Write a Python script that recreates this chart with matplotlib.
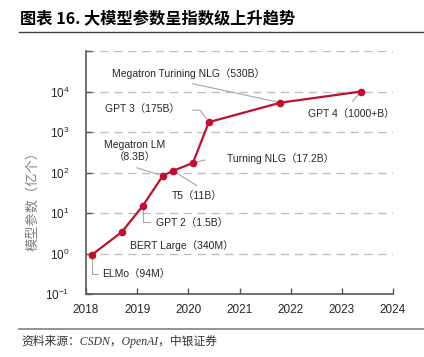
import matplotlib
matplotlib.use("Agg")
import matplotlib.pyplot as plt
from matplotlib.lines import Line2D
from matplotlib.ticker import FixedLocator, NullLocator, FuncFormatter

plt.rcParams['font.family'] = ['Liberation Sans', 'Noto Sans CJK SC']
plt.rcParams['mathtext.fontset'] = 'custom'
plt.rcParams['mathtext.rm'] = 'Liberation Sans'
plt.rcParams['mathtext.it'] = 'Liberation Sans'
plt.rcParams['axes.unicode_minus'] = False

# ---- data ----
models = ["ELMo", "BERT Large", "GPT 2", "Megatron LM", "T5",
          "Turning NLG", "GPT 3", "Megatron Turining NLG", "GPT 4"]
years = [2018.12, 2018.70, 2019.11, 2019.50, 2019.70, 2020.09, 2020.40, 2021.80, 2023.38]
params_yi = [0.94, 3.4, 15, 83, 110, 172, 1750, 5300, 10000]   # 亿个
labels = ["ELMo（94M）", "BERT Large（340M）", "GPT 2（1.5B）", "Megatron LM\n（8.3B）",
          "T5（11B）", "Turning NLG（17.2B）", "GPT 3（175B）",
          "Megatron Turining NLG（530B）", "GPT 4（1000+B）"]
x_ticks = [2018, 2019, 2020, 2021, 2022, 2023, 2024]
y_ticks = [1e-1, 1e0, 1e1, 1e2, 1e3, 1e4, 1e5]
y_tick_labels = ["$10^{-1}$", "$10^{0}$", "$10^{1}$", "$10^{2}$", "$10^{3}$", "$10^{4}$", ""]
title = "图表 16. 大模型参数呈指数级上升趋势"
ylabel = "模型参数（亿个）"
source = "资料来源：CSDN，OpenAI，中银证券"

# ---- layout ----
W, H = 424, 357
fig = plt.figure(figsize=(W / 100, H / 100), dpi=100)
ax = fig.add_axes([86 / W, 1 - 294 / H, (393 - 86) / W, (294 - 51) / H])

red = "#C00F2F"
ax.plot(years, params_yi, color=red, lw=1.6, marker="o", ms=4.5, zorder=5)

ax.set_yscale("log")
ax.set_ylim(1e-1, 1e5)
ax.set_xlim(2018, 2024)
ax.xaxis.set_major_locator(FixedLocator(x_ticks))
ax.set_xticklabels([str(t) for t in x_ticks])
ax.yaxis.set_major_locator(FixedLocator(y_ticks))
ax.yaxis.set_minor_locator(NullLocator())
ax.set_yticklabels(y_tick_labels)

for v in y_ticks[1:]:
    ax.axhline(v, color="#BFBFBF", lw=1.0, dashes=(6, 4), zorder=1)

for s in ["top", "right"]:
    ax.spines[s].set_visible(False)
for s in ["left", "bottom"]:
    ax.spines[s].set_color("#595959")
    ax.spines[s].set_linewidth(1.2)
ax.tick_params(axis="both", direction="in", length=4, width=1, color="#595959",
               labelsize=8.5, labelcolor="#262626")
ax.tick_params(axis="y", pad=12)
ax.tick_params(axis="x", pad=7)

# annotations: (text offset px, ha, va, leader end offset px or None, connectionstyle)
gray = "#A6A6A6"
ann = {
    "ELMo":        ((10, -19), "left", "center", (6, -19), "angle,angleA=0,angleB=90,rad=0"),
    "BERT Large":  ((8, -14), "left", "center", None, None),
    "GPT 2":       ((13, -17), "left", "center", (7, -16), "angle,angleA=0,angleB=90,rad=0"),
    "Megatron LM": ((-28, 25), "center", "center", (-26, 8), "arc3"),
    "T5":          ((-1, -25), "left", "center", (24, -15), "arc3"),
    "Turning NLG": ((34, 4), "left", "center", (12, 3), "arc3"),
    "GPT 3":       ((-29, 13), "right", "center", (-16, 12), "angle,angleA=0,angleB=126,rad=0"),
    "Megatron Turining NLG": ((-92, 29), "center", "center", (-88, 19), "arc3"),
    "GPT 4":       ((-10, -23), "center", "center", (-9, -10), "arc3"),
}
for m, x, y, lab in zip(models, years, params_yi, labels):
    toff, ha, va, loff, cs = ann[m]
    if loff is not None:
        ax.annotate("", xy=(x, y), xytext=loff, textcoords="offset pixels",
                    arrowprops=dict(arrowstyle="-", color=gray, lw=0.8,
                                    shrinkA=0, shrinkB=3, connectionstyle=cs),
                    zorder=3)
    ax.annotate(lab, xy=(x, y), xytext=toff, textcoords="offset pixels",
                ha=ha, va=va, fontsize=7.5, color="#262626",
                multialignment="center", linespacing=1.3, zorder=6)

# y label
fig.text(33 / W, 1 - 198 / H, ylabel, rotation=90, ha="center", va="center",
         fontsize=9.5, color="#7F7F7F", family=["Noto Sans CJK SC"])

# title and rules
fig.text(20 / W, 1 - 19 / H, title, ha="left", va="center", fontsize=11.7,
         fontweight="bold", color="#000000", family=["Noto Sans CJK SC"])
fig.add_artist(Line2D([19 / W, 1.0], [1 - 32 / H, 1 - 32 / H], color="#404040", lw=1.0))
fig.add_artist(Line2D([19 / W, 1.0], [1 - 329 / H, 1 - 329 / H], color="#808080", lw=1.2))
fig.text(21 / W, 1 - 341 / H, source, ha="left", va="center", fontsize=8.5,
         style="italic", color="#333333",
         family=["Liberation Serif", "Noto Sans CJK SC"])

fig.savefig("out.png", dpi=100)
